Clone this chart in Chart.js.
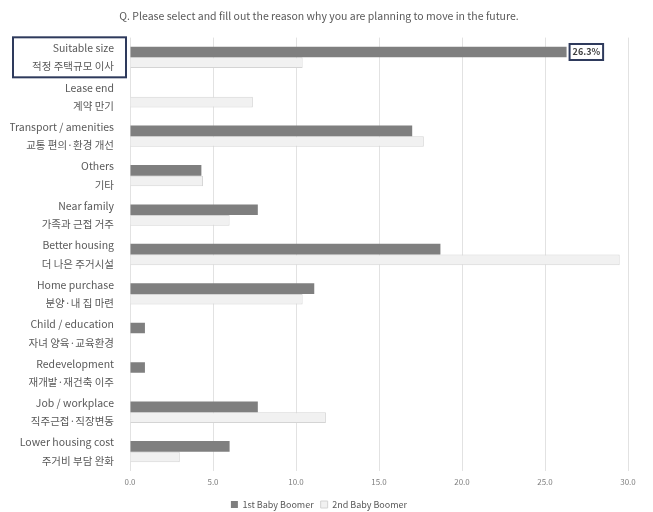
<!DOCTYPE html>
<html>
<head>
<meta charset="utf-8">
<script src="https://cdn.jsdelivr.net/npm/chart.js@4/dist/chart.umd.min.js"></script>
<style>
  html, body { margin: 0; padding: 0; background: #fff; overflow: hidden; }
  #wrap { width: 653px; height: 519px; }
</style>
</head>
<body>
<div id="wrap"><canvas id="chart"></canvas></div>
<script>
var labelsEn = ["Suitable size", "Lease end", "Transport / amenities", "Others", "Near family",
    "Better housing", "Home purchase", "Child / education", "Redevelopment", "Job / workplace", "Lower housing cost"];
var labelsKo = ["적정 주택규모 이사", "계약 만기", "교통 편의·환경 개선", "기타", "가족과 근접 거주",
    "더 나은 주거시설", "분양·내 집 마련", "자녀 양육·교육환경", "재개발·재건축 이주", "직주근접·직장변동", "주거비 부담 완화"];
var boomer1 = [26.3, null, 17.0, 4.3, 7.7, 18.7, 11.1, 0.9, 0.9, 7.7, 6.0];
var boomer2 = [10.4, 7.4, 17.7, 4.4, 6.0, 29.5, 10.4, null, null, 11.8, 3.0];
var xTicks = [0, 5, 10, 15, 20, 25, 30];
var titleText = "Q. Please select and fill out the reason why you are planning to move in the future.";

var labels = labelsEn.map(function(en, i) { return [en, labelsKo[i]]; });

var FONT = "'Noto Sans CJK KR', 'Noto Sans', sans-serif";
var navy = "#2e3a5c";

// boxes around the first category label and the 26.3% value
var highlight = {
    id: "highlight",
    afterDraw: function(chart) {
        var ctx = chart.ctx;
        var y = chart.scales.y;
        var cy = y.getPixelForTick(0);
        ctx.save();
        ctx.strokeStyle = navy;
        ctx.lineWidth = 2;
        ctx.strokeRect(13, cy - 20, y.right - 17, 40);

        var bar = chart.getDatasetMeta(0).data[0];
        var txt = boomer1[0].toFixed(1) + "%";
        ctx.font = "bold 9px " + FONT;
        var w = ctx.measureText(txt).width + 6;
        var bx = bar.x + 3;
        ctx.fillStyle = "#fff";
        ctx.fillRect(bx, bar.y - 8, w, 16);
        ctx.strokeRect(bx, bar.y - 8, w, 16);
        ctx.fillStyle = "#404040";
        ctx.textAlign = "center";
        ctx.textBaseline = "middle";
        ctx.fillText(txt, bx + w / 2, bar.y);
        ctx.restore();
    }
};

var ctx = document.getElementById("chart").getContext("2d");
var myChart = new Chart(ctx, {
    type: "bar",
    data: {
        labels: labels,
        datasets: [
            {
                label: "1st Baby Boomer",
                data: boomer1,
                backgroundColor: "#7f7f7f",
                borderWidth: 0,
                categoryPercentage: 0.54,
                barPercentage: 1
            },
            {
                label: "2nd Baby Boomer",
                data: boomer2,
                backgroundColor: "#f1f1f1",
                borderColor: "#d4d4d4",
                borderWidth: 1,
                categoryPercentage: 0.54,
                barPercentage: 1
            }
        ]
    },
    options: {
        indexAxis: "y",
        responsive: true,
        maintainAspectRatio: false,
        animation: false,
        layout: { padding: { left: 10, right: 25, top: 2, bottom: 0 } },
        plugins: {
            title: {
                display: true,
                text: titleText,
                color: "#595959",
                font: { family: FONT, size: 10.5, weight: "normal" },
                padding: { top: 8, bottom: 15 }
            },
            legend: {
                position: "bottom",
                labels: {
                    boxWidth: 7,
                    boxHeight: 7,
                    color: "#595959",
                    font: { family: FONT, size: 9 },
                    padding: 7
                }
            },
            tooltip: { enabled: false }
        },
        scales: {
            x: {
                min: 0,
                max: 30,
                afterBuildTicks: function(scale) {
                    scale.ticks = xTicks.map(function(v) { return { value: v }; });
                },
                ticks: {
                    color: "#7f7f7f",
                    font: { family: FONT, size: 8 },
                    padding: 6,
                    callback: function(v) { return Number(v).toFixed(1); }
                },
                grid: { color: "#e2e2e2", drawTicks: false },
                border: { display: false }
            },
            y: {
                afterFit: function(scale) { scale.width = 120; },
                ticks: {
                    color: "#595959",
                    font: { family: FONT, size: 10.5, lineHeight: 1.75 },
                    padding: 8,
                    autoSkip: false
                },
                grid: { display: false },
                border: { display: false }
            }
        }
    },
    plugins: [highlight]
});
</script>
</body>
</html>
